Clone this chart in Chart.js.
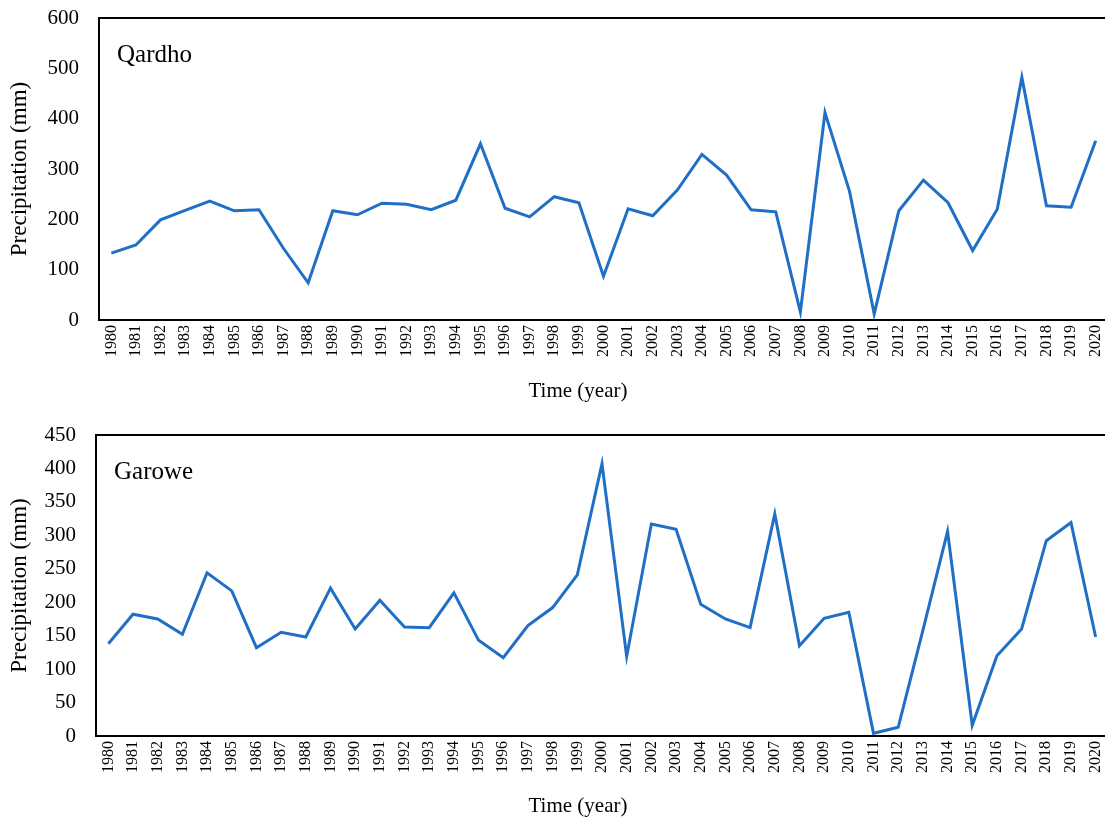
<!DOCTYPE html>
<html>
<head>
<meta charset="utf-8">
<script src="https://cdn.jsdelivr.net/npm/chart.js@4/dist/chart.umd.min.js"></script>
<style>
  html, body { margin: 0; padding: 0; background: #fff; }
  #wrap { position: relative; width: 1105px; height: 820px; overflow: hidden; background: #fff; }
  .panel { position: absolute; left: 0; }
</style>
</head>
<body>
<div id="wrap">
  <div class="panel" style="top:0px"><canvas id="c1" width="1118" height="410"></canvas></div>
  <div class="panel" style="top:410px"><canvas id="c2" width="1118" height="410"></canvas></div>
</div>
<script>
const years = ['1980','1981','1982','1983','1984','1985','1986','1987','1988','1989','1990',
  '1991','1992','1993','1994','1995','1996','1997','1998','1999','2000',
  '2001','2002','2003','2004','2005','2006','2007','2008','2009','2010',
  '2011','2012','2013','2014','2015','2016','2017','2018','2019','2020'];

const qardho = [133,149,199,218,236,217,219,142,74,217,209,
  232,230,219,238,350,222,205,245,233,87,
  221,207,258,329,288,219,215,16,412,255,
  12,217,278,233,138,220,482,227,224,356];

const garowe = [138,182,175,152,244,217,132,155,148,221,160,
  203,163,162,214,143,117,165,192,241,407,
  119,317,309,197,175,162,332,135,176,185,
  4,13,158,306,16,120,160,292,319,148];

const qardhoTicks = {min: 0, max: 600, step: 100};
const garoweTicks = {min: 0, max: 450, step: 50};

const stationNames = ['Qardho', 'Garowe'];
const xTitle = 'Time (year)';
const yTitle = 'Precipitation (mm)';

const SERIF = '"Liberation Serif", "Times New Roman", serif';
const LINE_COLOR = '#1F6FC6';

function makeChart(id, data, ticks, name, cfg) {
  const framePlugin = {
    id: 'frame_' + id,
    afterDraw(chart) {
      const ctx = chart.ctx;
      const a = chart.chartArea;
      ctx.save();
      ctx.strokeStyle = '#000';
      ctx.lineWidth = 2;
      ctx.beginPath();
      ctx.moveTo(a.left, a.top);
      ctx.lineTo(a.right, a.top);
      ctx.lineTo(a.right, a.bottom);
      ctx.stroke();
      ctx.fillStyle = '#000';
      ctx.font = '25px ' + SERIF;
      ctx.textBaseline = 'middle';
      ctx.textAlign = 'left';
      ctx.fillText(name, cfg.nameX, cfg.nameY);
      ctx.font = '21px ' + SERIF;
      ctx.textAlign = 'center';
      ctx.fillText(xTitle, cfg.xTitleX, cfg.xTitleY);
      ctx.restore();
    }
  };
  return new Chart(document.getElementById(id), {
    type: 'line',
    data: {
      labels: years,
      datasets: [{
        label: name,
        data: data,
        borderColor: LINE_COLOR,
        backgroundColor: LINE_COLOR,
        borderWidth: 3,
        pointRadius: 0,
        pointHoverRadius: 0,
        tension: 0,
        fill: false,
        clip: false
      }]
    },
    options: {
      responsive: false,
      animation: false,
      devicePixelRatio: 1,
      layout: { padding: { top: cfg.top, right: 10, left: 0, bottom: 0 } },
      plugins: { legend: { display: false }, tooltip: { enabled: false }, title: { display: false } },
      scales: {
        x: {
          type: 'category',
          offset: true,
          grid: { display: false, drawTicks: false },
          border: { display: true, color: '#000', width: 2 },
          ticks: {
            autoSkip: false,
            maxRotation: 90,
            minRotation: 90,
            padding: 5,
            color: '#000',
            font: { family: SERIF, size: 16 }
          },
          afterFit(scale) {
            scale.height = cfg.xHeight;
            scale.paddingLeft = 0; scale.paddingRight = 0;
            scale.paddingTop = 0; scale.paddingBottom = 0;
          }
        },
        y: {
          min: ticks.min,
          max: ticks.max,
          grid: { display: false, drawTicks: false },
          border: { display: true, color: '#000', width: 2 },
          ticks: {
            stepSize: ticks.step,
            padding: 20,
            color: '#000',
            font: { family: SERIF, size: 21 }
          },
          title: {
            display: true,
            text: yTitle,
            color: '#000',
            font: { family: SERIF, size: 23 },
            padding: { top: 6, bottom: 0 }
          },
          afterFit(scale) {
            scale.width = cfg.yWidth;
            scale.paddingTop = 0; scale.paddingBottom = 0;
            scale.paddingLeft = 0; scale.paddingRight = 0;
          }
        }
      }
    },
    plugins: [framePlugin]
  });
}

makeChart('c1', qardho, qardhoTicks, stationNames[0],
  { top: 18, xHeight: 90, yWidth: 99, nameX: 117, nameY: 55, xTitleX: 578, xTitleY: 391 });
makeChart('c2', garowe, garoweTicks, stationNames[1],
  { top: 25, xHeight: 84, yWidth: 96, nameX: 114, nameY: 62, xTitleX: 578, xTitleY: 396 });
</script>
</body>
</html>
